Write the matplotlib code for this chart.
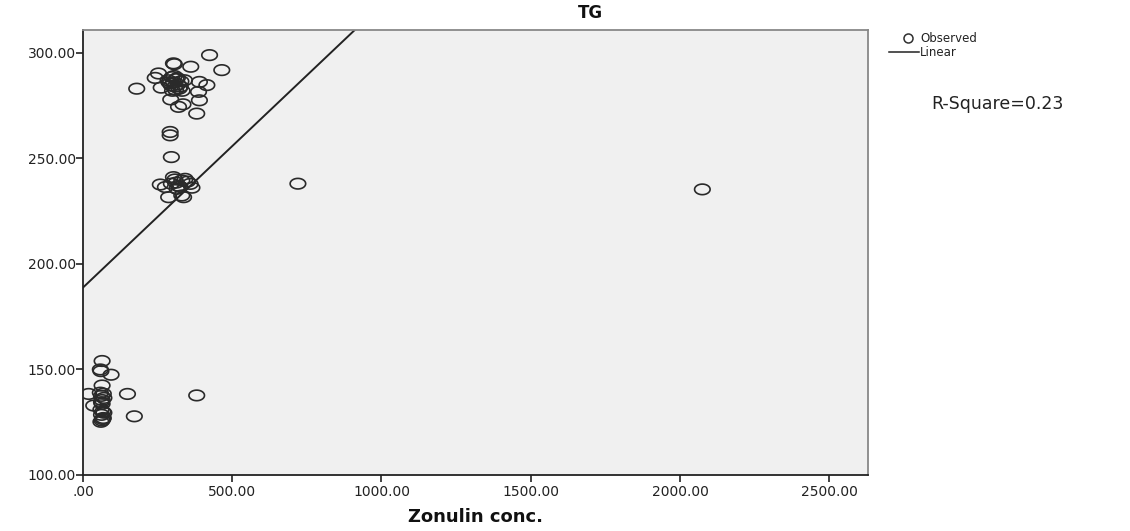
import matplotlib
matplotlib.use("Agg")
import matplotlib.pyplot as plt
import numpy as np
from matplotlib.path import Path
from matplotlib.lines import Line2D

# ---- data ----
zonulin = [
    # upper cluster
    424, 303, 306, 361, 465, 253, 242, 390, 415, 387, 390, 294, 320, 335, 381, 180, 262,
    285, 292, 298, 303, 308, 312, 318, 322, 328, 300, 306, 296, 310, 316, 288, 326, 340, 332,
    292, 292, 296,
    # middle cluster
    259, 276, 287, 303, 312, 320, 331, 342, 359, 365, 331, 337, 315, 296, 350, 308, 325, 720, 2075,
    # lower cluster
    64, 58, 60, 94, 64, 19, 58, 62, 68, 70, 149, 381, 36, 64, 60, 66, 62, 68, 172, 64, 60, 66, 70, 62, 64,
]
tg = [
    298.9, 295.0, 294.6, 293.4, 291.8, 290.2, 288.1, 286.2, 284.7, 281.5, 277.5, 277.9, 274.4, 275.6, 271.2, 283.0, 283.5,
    287.0, 285.5, 288.5, 286.0, 284.0, 287.5, 285.0, 283.0, 286.5, 282.0, 289.0, 284.5, 282.5, 288.0, 286.0, 284.0, 287.0, 282.0,
    262.5, 260.9, 250.6,
    237.6, 236.4, 231.6, 241.1, 238.5, 237.0, 239.5, 240.3, 237.9, 236.1, 232.4, 231.6, 235.6, 238.0, 239.0, 240.0, 236.5, 238.0, 235.3,
    154.0, 150.0, 149.2, 147.5, 142.4, 138.4, 139.0, 137.5, 138.5, 136.5, 138.4, 137.7, 132.9, 133.7, 131.0, 130.0, 128.5, 127.0, 127.8, 125.8, 125.2, 126.5, 129.5, 134.5, 135.5,
]
fit_intercept = 188.8
fit_slope = 0.134
r_square = 0.23
x_ticks = [0, 500, 1000, 1500, 2000, 2500]
x_ticklabels = [".00", "500.00", "1000.00", "1500.00", "2000.00", "2500.00"]
y_ticks = [100, 150, 200, 250, 300]
y_ticklabels = ["100.00", "150.00", "200.00", "250.00", "300.00"]

plt.rcParams['font.family'] = ['DejaVu Sans']

fig = plt.figure(figsize=(11.3, 5.31), dpi=100)
ax = fig.add_axes([83/1130, 1-475/531, (868-83)/1130, (475-30)/531])
ax.set_facecolor('#f0f0f0')

# elliptical open marker (reference circles are slightly wider than tall)
t = np.linspace(0, 2*np.pi, 60)
ell = Path(np.column_stack([np.cos(t), 0.68*np.sin(t)]), closed=True)

ax.scatter(zonulin, tg, marker=ell, s=125, facecolors='none',
           edgecolors='#2a2a2a', linewidths=1.2, zorder=3)

xl = np.array([0, 2630])
ax.plot(xl, fit_intercept + fit_slope*xl, color='#222222', lw=1.4, zorder=2)

ax.set_xlim(0, 2630)
ax.set_ylim(100, 310.8)
ax.set_xticks(x_ticks)
ax.set_xticklabels(x_ticklabels)
ax.set_yticks(y_ticks)
ax.set_yticklabels(y_ticklabels)
ax.tick_params(axis='both', length=5, width=1.2, color='#222222', labelsize=10, labelcolor='#222222')
ax.tick_params(axis='x', pad=2)
ax.tick_params(axis='y', pad=0)
for s in ['left', 'bottom']:
    ax.spines[s].set_color('#222222')
    ax.spines[s].set_linewidth(1.3)
for s in ['top', 'right']:
    ax.spines[s].set_color('#888888')
    ax.spines[s].set_linewidth(1.3)

ax.set_xlabel("Zonulin conc.", fontsize=13, fontweight='bold', labelpad=7, color='#111111')
fig.text(590/1130, 1-13/531, "TG", fontsize=12, fontweight='bold', ha='center', va='center', color='#111111')

# legend drawn manually
fig.lines.append(Line2D([908/1130], [1-38/531], marker='o', markersize=6.5, markerfacecolor='none',
                        markeredgecolor='#303030', markeredgewidth=1.1, linestyle='none',
                        transform=fig.transFigure))
fig.text(920/1130, 1-39/531, "Observed", fontsize=8.5, va='center', ha='left', color='#222222')
fig.lines.append(Line2D([889/1130, 919/1130], [1-52/531, 1-52/531], color='#222222', lw=1.1,
                        transform=fig.transFigure))
fig.text(920/1130, 1-53/531, "Linear", fontsize=8.5, va='center', ha='left', color='#222222')
fig.text(931/1130, 1-104/531, f"R-Square={r_square:.2f}", fontsize=12.5, va='center', ha='left', color='#222222')

fig.savefig("out.png", dpi=100, facecolor='white')
